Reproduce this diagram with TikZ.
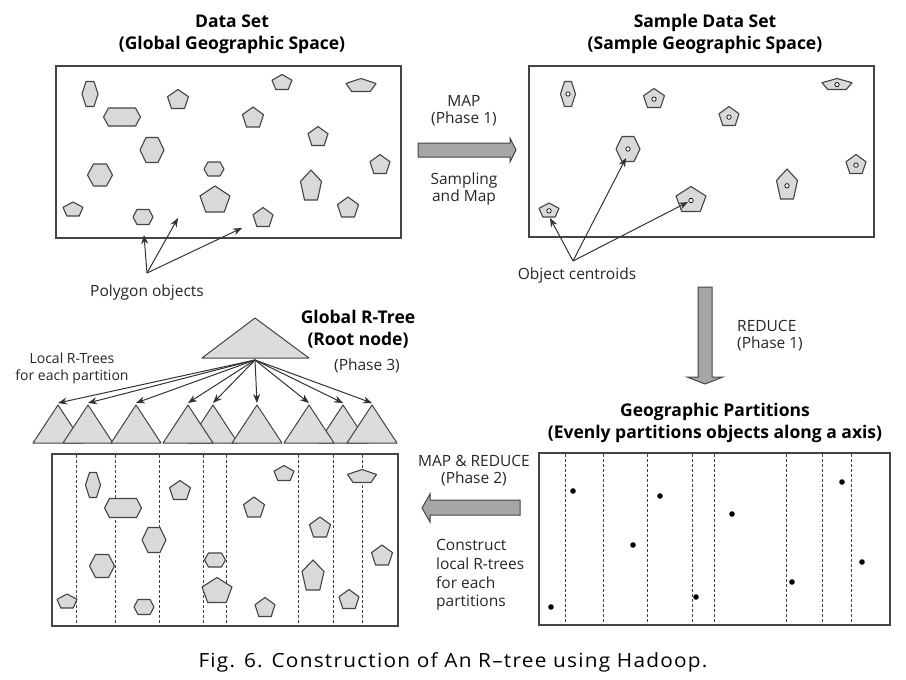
\documentclass[tikz,border=0pt]{standalone}
\usepackage{fontspec}
\setmainfont{Open Sans}
\usetikzlibrary{arrows.meta}
\definecolor{polyfill}{HTML}{D9D9D9}
\definecolor{edge}{HTML}{444444}
\definecolor{bigarrow}{HTML}{A6A6A6}
\definecolor{trifill}{HTML}{DCDCDC}
\newcommand{\PG}[4]{\draw[poly] ({#1},{#2-#4/2}) -- ({#1+#3/2},{#2-#4/2+0.382*#4}) -- ({#1+0.309*#3},{#2+#4/2}) -- ({#1-0.309*#3},{#2+#4/2}) -- ({#1-#3/2},{#2-#4/2+0.382*#4}) -- cycle;}
\newcommand{\HX}[5]{\draw[poly] ({#1-#3/2+#5},{#2-#4/2}) -- ({#1+#3/2-#5},{#2-#4/2}) -- ({#1+#3/2},{#2}) -- ({#1+#3/2-#5},{#2+#4/2}) -- ({#1-#3/2+#5},{#2+#4/2}) -- ({#1-#3/2},{#2}) -- cycle;}
\newcommand{\CPG}[4]{\PG{#1}{#2}{#3}{#4}\draw[cen] ({#1},{#2+0.06*#4}) circle (2.2pt);}
\newcommand{\CHX}[5]{\HX{#1}{#2}{#3}{#4}{#5}\draw[cen] ({#1},{#2}) circle (2.2pt);}
\newcommand{\TRI}[1]{\draw[tri] ({#1},405) -- ({#1+25},443) -- ({#1-25},443) -- cycle; \coordinate (t#1) at ({#1},403);}
\tikzset{
  poly/.style={draw=edge,fill=polyfill,line width=1.1pt,line join=round},
  cen/.style={draw=black,fill=white,line width=0.7pt},
  frame/.style={draw=edge,line width=1.2pt},
  part/.style={draw=black!75,dashed,dash pattern=on 3pt off 2pt,line width=0.8pt},
  ptr/.style={draw=black!80,line width=1pt,-{Stealth[length=9pt,width=7pt]}},
  tptr/.style={draw=black!80,line width=1pt,-{Stealth[length=9pt,width=7pt]}},
  tri/.style={draw=edge,fill=trifill,line width=1pt,line join=round},
  fat/.style={draw=edge,fill=bigarrow,line width=1pt,line join=miter},
  title/.style={font=\fontsize{17.5}{22}\selectfont\bfseries,align=center,inner sep=0pt},
  lbl/.style={font=\fontsize{15.5}{17}\selectfont,align=center,inner sep=0pt,text=black!85},
  dot/.style={fill=black},
}
\begin{document}
\begin{tikzpicture}[x=1pt,y=-1pt]
\useasboundingbox (0,0) rectangle (906,680);
% ---------- Titles
\node[title] (t1) at (232,34) {Data Set\\(Global Geographic Space)};
\node[title] (t2) at (705,34) {Sample Data Set\\(Sample Geographic Space)};
% ---------- Top-left box
\draw[frame] (56,66) rectangle (401,238);
\HX{90}{94}{16}{25}{4}
\HX{122}{117}{37}{18}{5}
\PG{178}{99}{21}{19}
\PG{282}{82}{20}{15}
\PG{361}{85}{30}{13}
\PG{253}{117}{21}{20}
\PG{318}{136}{20}{19}
\HX{152}{150}{24}{25}{6}
\HX{100}{175}{25}{22}{6}
\HX{214}{169}{20}{14}{4}
\PG{380}{164}{20}{19}
\PG{311}{185}{21}{30}
\PG{215}{199}{30}{26}
\PG{348}{207}{21}{20}
\PG{73}{209}{20}{14}
\HX{143}{217}{20}{15}{4}
\PG{263}{217}{20}{19}
\coordinate (pa) at (144,235);
\coordinate (pb) at (178,218);
\coordinate (pc) at (242,228);
\coordinate (pjoin) at (147,273);
\node[lbl] (polylbl) at (147,292) {Polygon objects};
\draw[ptr] (pjoin) -- (pa);
\draw[ptr] (pjoin) -- (pb);
\draw[ptr] (pjoin) -- (pc);
% ---------- MAP arrow
\node[lbl] (maplbl) at (464,111) {MAP\\(Phase 1)};
\node[lbl] (samplbl) at (464,189) {Sampling\\and Map};
\draw[fat] (418,143) -- (510,143) -- (510,138) -- (516,150) -- (510,162) -- (510,157) -- (418,157) -- cycle;
% ---------- Top-right box
\draw[frame] (529,66) rectangle (874,237);
\CHX{568}{94}{15}{25}{4}
\CPG{654}{98}{21}{19}
\CPG{729}{116}{20}{19}
\CPG{837}{84}{30}{11}
\CHX{628}{149}{24}{25}{6}
\CPG{856}{164}{20}{19}
\CPG{787}{184}{21}{30}
\CPG{691}{199}{30}{25}
\CPG{549}{210}{20}{14}
\coordinate (ca) at (550,218);
\coordinate (cb) at (626,158);
\coordinate (cc) at (688,202);
\coordinate (cjoin) at (573,261);
\node[lbl] (cenlbl) at (577,275) {Object centroids};
\draw[ptr] (cjoin) -- (ca);
\draw[ptr] (cjoin) -- (cb);
\draw[ptr] (cjoin) -- (cc);
% ---------- REDUCE arrow
\draw[fat] (698,287) -- (712,287) -- (712,377) -- (723,377) -- (705,384) -- (687,377) -- (698,377) -- cycle;
\node[lbl,align=left,anchor=west] (redlbl) at (737,336) {REDUCE\\(Phase 1)};
% ---------- Geographic partitions
\node[title] (t3) at (715,423) {Geographic Partitions\\(Evenly partitions objects along a axis)};
\draw[frame] (539,453) rectangle (890,625);
\foreach \x in {565,603,647,692,714,786,822,851} \draw[part] (\x,454) -- (\x,624);
\foreach \p/\q in {551/607,573/491,633/545,660/496,696/597,732/514,792/582,842/482,862/562}
  \fill[dot] (\p,\q) circle (2.8pt);
% ---------- MAP & REDUCE arrow
\node[lbl] (mrlbl) at (474,471) {MAP \& REDUCE\\(Phase 2)};
\draw[fat] (520,500) -- (430,500) -- (430,494) -- (422,508) -- (430,522) -- (430,515) -- (520,515) -- cycle;
\node[lbl,align=left,anchor=west,font=\fontsize{15.5}{18.7}\selectfont] (conlbl) at (436,575) {Construct\\local R-trees\\for each\\partitions};
% ---------- Bottom-left box
\draw[frame] (52,454) rectangle (398,626);
\foreach \x in {76,115,159,203,226,298,333,362} \draw[part] (\x,455) -- (\x,625);
\HX{93}{485}{15}{25}{4}
\HX{123}{508}{37}{19}{5}
\PG{180}{490}{21}{19}
\PG{284}{473}{20}{15}
\PG{362}{476}{29}{13}
\PG{254}{507}{21}{20}
\PG{320}{527}{21}{20}
\HX{154}{540}{24}{25}{6}
\HX{102}{566}{25}{23}{6}
\HX{215}{560}{21}{14}{4}
\PG{382}{555}{21}{20}
\PG{313}{575}{22}{30}
\PG{217}{590}{30}{25}
\PG{349}{599}{20}{19}
\PG{67}{601}{20}{14}
\HX{144}{607}{20}{15}{4}
\PG{265}{607}{20}{19}
% ---------- Tree
\draw[tri] (255,318) -- (309,358) -- (202,358) -- cycle;
\coordinate (root) at (255,360);
\TRI{58}\TRI{88}\TRI{136}\TRI{213}\TRI{188}\TRI{257}\TRI{343}\TRI{309}\TRI{372}
\foreach \a in {58,88,136,188,213,257,309,343,372} \draw[tptr] (root) -- (t\a);
\node[title] (t4) at (358,329) {Global R-Tree\\(Root node)};
\node[lbl] (ph3) at (367,366) {(Phase 3)};
\node[lbl,font=\fontsize{14}{17}\selectfont] (loclbl) at (72,368) {Local R-Trees\\for each partition};
% ---------- Caption
\node[inner sep=0pt,font=\fontsize{19.5}{22}\selectfont] (cap) at (453,662) {\scalebox{1.067}[1]{\addfontfeature{LetterSpace=6}Fig. 6. Construction of An R–tree using Hadoop.}};
\end{tikzpicture}
\end{document}
